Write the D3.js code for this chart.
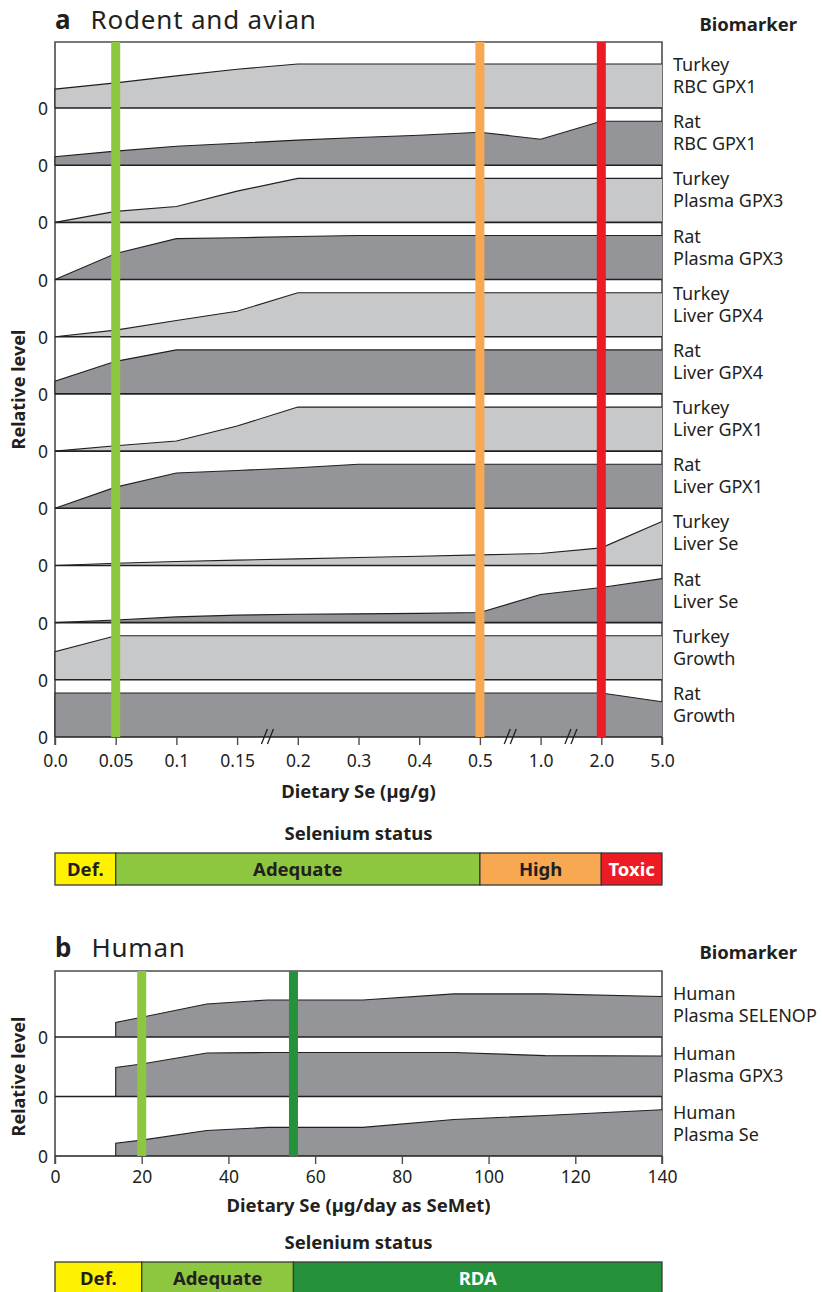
<!DOCTYPE html>
<html>
<head>
<meta charset="utf-8">
<script src="https://cdn.jsdelivr.net/npm/d3@7"></script>
<style>
  body { margin: 0; background: #fff; }
  svg { display: block; }
</style>
</head>
<body>
<div id="vis"></div>
<script>
// ---- data: panel a (rodent and avian) ----
var doseLabels = ["0.0", "0.05", "0.1", "0.15", "0.2", "0.3", "0.4", "0.5", "1.0", "2.0", "5.0"];
var animalSpecies = ["Turkey", "Rat", "Turkey", "Rat", "Turkey", "Rat", "Turkey", "Rat", "Turkey", "Rat", "Turkey", "Rat"];
var animalTissues = ["RBC GPX1", "RBC GPX1", "Plasma GPX3", "Plasma GPX3", "Liver GPX4", "Liver GPX4",
                     "Liver GPX1", "Liver GPX1", "Liver Se", "Liver Se", "Growth", "Growth"];
var animalLevels = [
  [0.43, 0.57, 0.73, 0.88, 1.0, 1.0, 1.0, 1.0, 1.0, 1.0, 1.0],
  [0.19, 0.32, 0.43, 0.5, 0.57, 0.63, 0.68, 0.75, 0.59, 1.0, 1.0],
  [0, 0.25, 0.36, 0.71, 1.0, 1.0, 1.0, 1.0, 1.0, 1.0, 1.0],
  [0, 0.59, 0.93, 0.95, 0.98, 1.0, 1.0, 1.0, 1.0, 1.0, 1.0],
  [0, 0.15, 0.37, 0.58, 1.0, 1.0, 1.0, 1.0, 1.0, 1.0, 1.0],
  [0.29, 0.74, 1.0, 1.0, 1.0, 1.0, 1.0, 1.0, 1.0, 1.0, 1.0],
  [0, 0.12, 0.23, 0.57, 1.0, 1.0, 1.0, 1.0, 1.0, 1.0, 1.0],
  [0, 0.48, 0.8, 0.86, 0.92, 1.0, 1.0, 1.0, 1.0, 1.0, 1.0],
  [0, 0.05, 0.09, 0.12, 0.15, 0.18, 0.21, 0.24, 0.27, 0.4, 1.0],
  [0, 0.06, 0.13, 0.17, 0.19, 0.2, 0.21, 0.23, 0.64, 0.8, 1.0],
  [0.64, 1.0, 1.0, 1.0, 1.0, 1.0, 1.0, 1.0, 1.0, 1.0, 1.0],
  [1.0, 1.0, 1.0, 1.0, 1.0, 1.0, 1.0, 1.0, 1.0, 1.0, 0.8]
];
var animalCutoffs = ["0.05", "0.5", "2.0"];
var animalStatus = ["Def.", "Adequate", "High", "Toxic"];
var animalStatusBounds = ["0.0", "0.05", "0.5", "2.0", "5.0"];
var doseBreaks = [["0.15", "0.2"], ["0.5", "1.0"], ["1.0", "2.0"]];

// ---- data: panel b (human) ----
var humanDoses = [14, 20, 35, 49, 71, 92, 113, 140];
var humanTissues = ["Plasma SELENOP", "Plasma GPX3", "Plasma Se"];
var humanLevels = [
  [0.33, 0.45, 0.75, 0.84, 0.84, 0.98, 0.98, 0.92],
  [0.66, 0.74, 0.99, 1.0, 1.0, 1.0, 0.93, 0.92],
  [0.29, 0.36, 0.58, 0.65, 0.65, 0.83, 0.92, 1.05]
];
var humanTicks = [0, 20, 40, 60, 80, 100, 120, 140];
var humanCutoffs = [20, 55];
var humanStatus = ["Def.", "Adequate", "RDA"];
var humanStatusBounds = [0, 20, 55, 140];

// ---- styling ----
var font = '"Noto Sans", "Open Sans", Arial, sans-serif';
var ink = "#231f20";
var light = "#c7c8ca", dark = "#939598";
var yellow = "#fff200", green = "#8dc63f", orange = "#f7a851", red = "#ed1c24", rda = "#25913b";
var left = 55, right = 662;
var boldSize = 18.5;

var svg = d3.select("#vis").append("svg")
  .attr("width", 823).attr("height", 1292)
  .style("font-family", font);

function title(letter, name, y) {
  var t = svg.append("text").attr("x", left).attr("y", y).attr("fill", ink);
  t.append("tspan").attr("font-weight", "bold").attr("font-size", 26).text(letter);
  t.append("tspan").attr("dx", 20).attr("font-size", 26).attr("letter-spacing", 0.8).text(name);
  svg.append("text").attr("x", 797).attr("y", y + 2).attr("text-anchor", "end")
    .attr("font-weight", "bold").attr("font-size", boldSize).attr("fill", ink).text("Biomarker");
}

function panel(opts) {
  var x = opts.x, rows = opts.rows, y = opts.y;
  var g = svg.append("g");
  var lvl = d3.scaleLinear().domain([0, 1]).range([0, -44]);
  var top = opts.top, bottom = y(rows[rows.length - 1]);

  // frame
  g.append("path").attr("d", "M" + left + "," + (bottom + 8) + "V" + top + "H" + right + "V" + (bottom + 8))
    .attr("fill", "none").attr("stroke", "#4d4d4f").attr("stroke-width", 1.6);

  rows.forEach(function (r, i) {
    var row = g.append("g").attr("transform", "translate(0," + y(r) + ")");
    var pts = opts.levels[i].map(function (v, j) { return [opts.xs(j), lvl(v)]; });
    row.append("path")
      .attr("d", d3.area().x(function (d) { return d[0]; }).y0(0).y1(function (d) { return d[1]; })(pts))
      .attr("fill", opts.shade(i));
    var edge = [[pts[0][0], 0]].concat(pts);
    row.append("path")
      .attr("d", d3.line()(edge))
      .attr("fill", "none").attr("stroke", ink).attr("stroke-width", 1.1);
    row.append("line").attr("x1", left).attr("x2", right)
      .attr("stroke", ink).attr("stroke-width", 1.6);
    row.append("text").attr("x", left - 7).attr("y", 7).attr("text-anchor", "end")
      .attr("font-size", 17.5).attr("fill", ink).text("0");
    var lab = row.append("text").attr("x", 673).attr("font-size", 18).attr("fill", ink);
    lab.append("tspan").attr("x", 673).attr("y", -37).text(opts.species[i]);
    lab.append("tspan").attr("x", 673).attr("y", -15).text(opts.tissues[i]);
  });

  // cutoff bars
  opts.cutoffs.forEach(function (c) {
    g.append("rect").attr("x", x(c[0]) - 4.5).attr("width", 9)
      .attr("y", top).attr("height", bottom - top).attr("fill", c[1]);
  });

  // x axis
  var ax = g.append("g").attr("transform", "translate(0," + bottom + ")")
    .call(d3.axisBottom(x).tickValues(opts.ticks).tickSize(8).tickSizeOuter(0).tickPadding(opts.pad));
  ax.select(".domain").remove();
  ax.selectAll(".tick line").attr("stroke", "#4d4d4f").attr("stroke-width", 1.4);
  ax.selectAll(".tick text").attr("font-size", 17.5).attr("fill", ink).style("font-family", font);

  g.append("text").attr("x", (left + right) / 2).attr("y", bottom + opts.titleGap)
    .attr("text-anchor", "middle").attr("font-weight", "bold").attr("font-size", boldSize)
    .attr("fill", ink).text(opts.xTitle);

  g.append("text").attr("transform", "translate(25," + ((top + bottom) / 2 + opts.yShift) + ") rotate(-90)")
    .attr("text-anchor", "middle").attr("font-weight", "bold").attr("font-size", 18)
    .attr("fill", ink).text("Relative level");
  return { g: g, bottom: bottom };
}

function statusBar(x, labels, bounds, colors, textColors, y0, h) {
  svg.append("text").attr("x", (left + right) / 2).attr("y", y0 - 13)
    .attr("text-anchor", "middle").attr("font-weight", "bold").attr("font-size", boldSize)
    .attr("fill", ink).text("Selenium status");
  labels.forEach(function (l, i) {
    var x0 = x(bounds[i]), x1 = x(bounds[i + 1]);
    svg.append("rect").attr("x", x0).attr("y", y0).attr("width", x1 - x0).attr("height", h)
      .attr("fill", colors[i]).attr("stroke", "#3a3a3a").attr("stroke-width", 1.3);
    svg.append("text").attr("x", (x0 + x1) / 2).attr("y", y0 + 23)
      .attr("text-anchor", "middle").attr("font-weight", "bold").attr("font-size", boldSize)
      .attr("fill", textColors[i]).text(l);
  });
}

// ---- panel a ----
title("a", "Rodent and avian", 29);
var xa = d3.scalePoint().domain(doseLabels).range([left, right]);
var ya = d3.scalePoint().domain(d3.range(animalLevels.length)).range([108, 737]);
var pa = panel({
  x: xa, rows: d3.range(animalLevels.length), y: ya, top: 42,
  xs: function (j) { return xa(doseLabels[j]); },
  levels: animalLevels, species: animalSpecies, tissues: animalTissues,
  shade: function (i) { return animalSpecies[i] === "Turkey" ? light : dark; },
  cutoffs: [[animalCutoffs[0], green], [animalCutoffs[1], orange], [animalCutoffs[2], red]],
  ticks: doseLabels, pad: 10, titleGap: 61, xTitle: "Dietary Se (\u00b5g/g)", yShift: 0
});

// axis breaks
doseBreaks.forEach(function (b) {
  var mx = (xa(b[0]) + xa(b[1])) / 2;
  [-3, 3].forEach(function (o) {
    pa.g.append("line").attr("x1", mx + o - 3).attr("y1", 744).attr("x2", mx + o + 3).attr("y2", 729)
      .attr("stroke", ink).attr("stroke-width", 1.3);
  });
});

statusBar(xa, animalStatus, animalStatusBounds, [yellow, green, orange, red],
  [ink, ink, ink, "#fff"], 853, 32);

// ---- panel b ----
title("b", "Human", 957);
var xb = d3.scaleLinear().domain([0, 140]).range([left, right]);
var yb = d3.scalePoint().domain(d3.range(humanLevels.length)).range([1037, 1156]);
panel({
  x: xb, rows: d3.range(humanLevels.length), y: yb, top: 971,
  xs: function (j) { return xb(humanDoses[j]); },
  levels: humanLevels, species: humanTissues.map(function () { return "Human"; }), tissues: humanTissues,
  shade: function () { return dark; },
  cutoffs: [[humanCutoffs[0], green], [humanCutoffs[1], rda]],
  ticks: humanTicks, pad: 7, titleGap: 56, xTitle: "Dietary Se (\u00b5g/day as SeMet)", yShift: 13
});

statusBar(xb, humanStatus, humanStatusBounds, [yellow, green, rda],
  [ink, ink, "#fff"], 1262, 36);
</script>
</body>
</html>
